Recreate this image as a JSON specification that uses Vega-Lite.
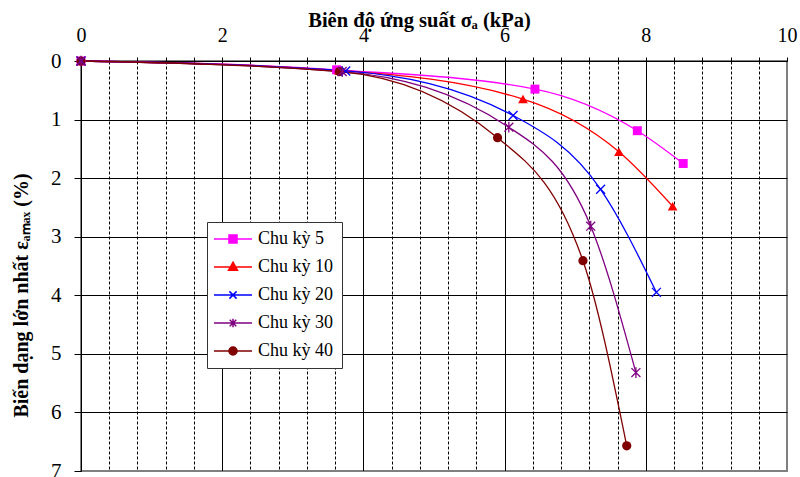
{
  "$schema": "https://vega.github.io/schema/vega-lite/v6.json",
  "width": 706,
  "height": 410,
  "autosize": {"type": "none"},
  "padding": {"left": 81, "top": 61, "right": 13, "bottom": 6},
  "background": "white",
  "config": {
    "view": {"stroke": "#808080", "strokeWidth": 2},
    "font": "Liberation Serif"
  },
  "data": {
    "values": [
      {"series": "Chu kỳ 5", "stress": 0, "strain": 0},
      {"series": "Chu kỳ 5", "stress": 3.62, "strain": 0.15},
      {"series": "Chu kỳ 5", "stress": 6.43, "strain": 0.48},
      {"series": "Chu kỳ 5", "stress": 7.88, "strain": 1.19},
      {"series": "Chu kỳ 5", "stress": 8.53, "strain": 1.75},
      {"series": "Chu kỳ 10", "stress": 0, "strain": 0},
      {"series": "Chu kỳ 10", "stress": 3.65, "strain": 0.16},
      {"series": "Chu kỳ 10", "stress": 6.26, "strain": 0.65},
      {"series": "Chu kỳ 10", "stress": 7.62, "strain": 1.55},
      {"series": "Chu kỳ 10", "stress": 8.38, "strain": 2.48},
      {"series": "Chu kỳ 20", "stress": 0, "strain": 0},
      {"series": "Chu kỳ 20", "stress": 3.75, "strain": 0.17},
      {"series": "Chu kỳ 20", "stress": 6.12, "strain": 0.93},
      {"series": "Chu kỳ 20", "stress": 7.36, "strain": 2.19},
      {"series": "Chu kỳ 20", "stress": 8.15, "strain": 3.95},
      {"series": "Chu kỳ 30", "stress": 0, "strain": 0},
      {"series": "Chu kỳ 30", "stress": 3.7, "strain": 0.18},
      {"series": "Chu kỳ 30", "stress": 6.06, "strain": 1.13},
      {"series": "Chu kỳ 30", "stress": 7.22, "strain": 2.82},
      {"series": "Chu kỳ 30", "stress": 7.86, "strain": 5.32},
      {"series": "Chu kỳ 40", "stress": 0, "strain": 0},
      {"series": "Chu kỳ 40", "stress": 3.66, "strain": 0.18},
      {"series": "Chu kỳ 40", "stress": 5.9, "strain": 1.31},
      {"series": "Chu kỳ 40", "stress": 7.11, "strain": 3.41},
      {"series": "Chu kỳ 40", "stress": 7.73, "strain": 6.57}
    ]
  },
  "encoding": {
    "x": {
      "field": "stress",
      "type": "quantitative",
      "scale": {"domain": [0, 10], "nice": false, "zero": false},
      "axis": {
        "orient": "top",
        "title": "Biên độ ứng suất σₐ (kPa)",
        "titleFont": "Liberation Serif",
        "titleFontSize": 20.5,
        "titleFontWeight": "bold",
        "titleColor": "black",
        "titleX": 338,
        "titleY": -35,
        "titleBaseline": "alphabetic",
        "values": [0, 0.4, 0.8, 1.2, 1.6, 2, 2.4, 2.8, 3.2, 3.6, 4, 4.4, 4.8, 5.2, 5.6, 6, 6.4, 6.8, 7.2, 7.6, 8, 8.4, 8.8, 9.2, 9.6, 10],
        "labelExpr": "datum.value % 2 === 0 ? format(datum.value, 'd') : ''",
        "labelOverlap": false,
        "labelFlush": false,
        "labelBound": false,
        "labelFont": "Liberation Serif",
        "labelFontSize": 20,
        "labelColor": "black",
        "labelPadding": 12,
        "tickSize": 4,
        "tickColor": "black",
        "domainColor": "black",
        "grid": true,
        "gridColor": {"condition": {"test": "datum.value === 10", "value": "#808080"}, "value": "black"},
        "gridOpacity": 1,
        "gridWidth": 1,
        "gridDash": {"condition": {"test": "datum.value % 2 === 0", "value": []}, "value": [3, 2]}
      }
    },
    "y": {
      "field": "strain",
      "type": "quantitative",
      "scale": {"domain": [0, 7], "nice": false, "zero": false, "reverse": true},
      "axis": {
        "title": "Biến dạng lớn nhất εₐₘₐₓ (%)",
        "titleFont": "Liberation Serif",
        "titleFontSize": 20,
        "titleFontWeight": "bold",
        "titleColor": "black",
        "titleAngle": -90,
        "titleBaseline": "bottom",
        "titleX": -50,
        "titleY": 234,
        "values": [0, 1, 2, 3, 4, 5, 6, 7],
        "labelFont": "Liberation Serif",
        "labelFontSize": 21,
        "labelColor": "black",
        "labelPadding": 13,
        "labelFlush": false,
        "tickSize": 7,
        "tickColor": "black",
        "domainColor": "black",
        "grid": true,
        "gridColor": {"condition": {"test": "datum.value === 7", "value": "#808080"}, "value": "black"},
        "gridOpacity": 1,
        "gridWidth": 1
      }
    }
  },
  "layer": [
    {
      "mark": {"type": "line", "interpolate": "monotone", "strokeWidth": 1.3},
      "encoding": {
        "color": {
          "field": "series",
          "type": "nominal",
          "scale": {
            "domain": ["Chu kỳ 5", "Chu kỳ 10", "Chu kỳ 20", "Chu kỳ 30", "Chu kỳ 40"],
            "range": ["#FF00FF", "#FF0000", "#0000FF", "#800080", "#800000"]
          },
          "legend": {
            "title": null,
            "orient": "none",
            "legendX": 126,
            "legendY": 161,
            "symbolType": "stroke",
            "symbolSize": 144,
            "symbolOffset": 9,
            "symbolStrokeWidth": 1.5,
            "labelFont": "Liberation Serif",
            "labelFontSize": 18,
            "labelColor": "black",
            "labelOffset": 16,
            "fillColor": "white",
            "strokeColor": "#333333",
            "padding": 8,
            "rowPadding": 10,
            "encode": {
              "symbols": {
                "update": {
                  "shape": {"signal": "datum.value === 'Chu kỳ 5' ? 'M-3.17,0L3.17,0M-0.67,-0.67L0.67,-0.67L0.67,0.67L-0.67,0.67Z' : datum.value === 'Chu kỳ 10' ? 'M-3.17,0L3.17,0M0,-0.8L0.75,0.55L-0.75,0.55Z' : datum.value === 'Chu kỳ 20' ? 'M-3.17,0L3.17,0M-0.6,-0.6L0.6,0.6M-0.6,0.6L0.6,-0.6' : datum.value === 'Chu kỳ 30' ? 'M-3.17,0L3.17,0M-0.55,-0.55L0.55,0.55M-0.55,0.55L0.55,-0.55M0,-0.7L0,0.7' : 'M-3.17,0L3.17,0M0.67,0A0.67,0.67,0,1,1,-0.67,0A0.67,0.67,0,1,1,0.67,0Z'"},
                  "fill": {"signal": "(datum.value === 'Chu kỳ 20' || datum.value === 'Chu kỳ 30') ? 'transparent' : scale('color', datum.value)"}
                }
              }
            }
          }
        }
      }
    },
    {
      "transform": [{"filter": "datum.series === 'Chu kỳ 5'"}],
      "mark": {"type": "point", "shape": "square", "filled": true, "size": 80, "opacity": 1},
      "encoding": {
        "fill": {"field": "series", "type": "nominal", "scale": {"domain": ["Chu kỳ 5", "Chu kỳ 10", "Chu kỳ 20", "Chu kỳ 30", "Chu kỳ 40"], "range": ["#FF00FF", "#FF0000", "#0000FF", "#800080", "#800000"]}, "legend": null}
      }
    },
    {
      "transform": [{"filter": "datum.series === 'Chu kỳ 10'"}],
      "mark": {"type": "point", "shape": "triangle-up", "filled": true, "size": 95, "opacity": 1},
      "encoding": {
        "fill": {"field": "series", "type": "nominal", "legend": null}
      }
    },
    {
      "transform": [{"filter": "datum.series === 'Chu kỳ 40'"}],
      "mark": {"type": "point", "shape": "circle", "filled": true, "size": 85, "opacity": 1},
      "encoding": {
        "fill": {"field": "series", "type": "nominal", "legend": null}
      }
    },
    {
      "transform": [{"filter": "datum.series === 'Chu kỳ 20'"}],
      "mark": {"type": "point", "shape": "M-1,-1L1,1M-1,1L1,-1", "filled": false, "size": 80, "strokeWidth": 1.3, "opacity": 1},
      "encoding": {
        "stroke": {"field": "series", "type": "nominal", "scale": {"domain": ["Chu kỳ 5", "Chu kỳ 10", "Chu kỳ 20", "Chu kỳ 30", "Chu kỳ 40"], "range": ["#FF00FF", "#FF0000", "#0000FF", "#800080", "#800000"]}, "legend": null}
      }
    },
    {
      "transform": [{"filter": "datum.series === 'Chu kỳ 30'"}],
      "mark": {"type": "point", "shape": "M-1,-1L1,1M-1,1L1,-1M0,-1.2L0,1.2", "filled": false, "size": 80, "strokeWidth": 1.3, "opacity": 1},
      "encoding": {
        "stroke": {"field": "series", "type": "nominal", "legend": null}
      }
    }
  ]
}
